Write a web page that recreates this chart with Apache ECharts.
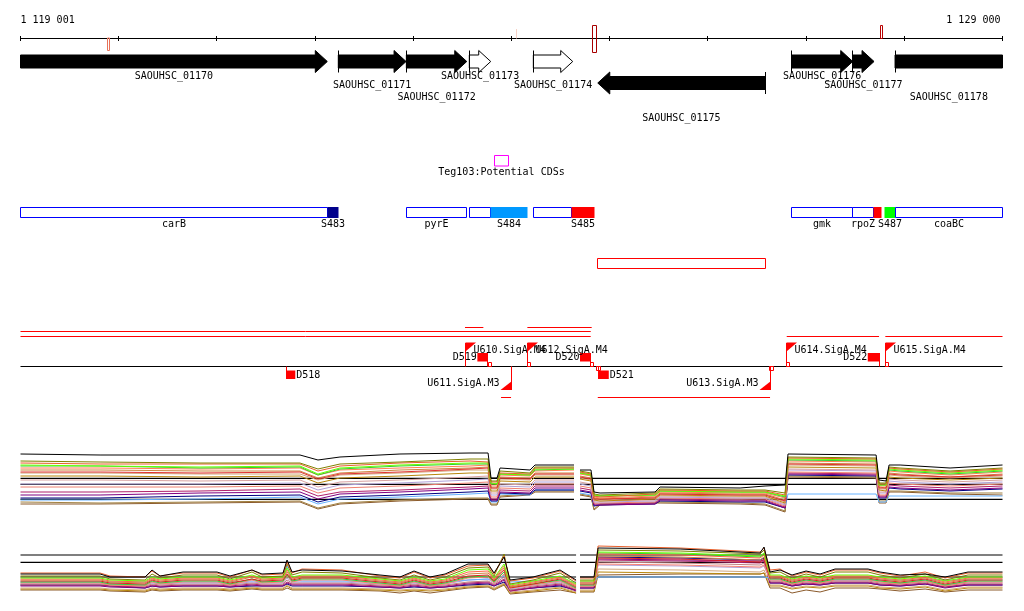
<!DOCTYPE html>
<html><head><meta charset="utf-8">
<script src="https://cdn.jsdelivr.net/npm/echarts@6/dist/echarts.min.js"></script>
<style>html,body{margin:0;padding:0;background:#fff}#c{width:1024px;height:611px}</style>
</head><body><div id="c"></div>
<script>
// ---------------- DATA ----------------
const VIEW_START = 1119001, VIEW_END = 1129000;
const rulerTicks = [1119001,1120000,1121000,1122000,1123000,1124000,1125000,1126000,1127000,1128000,1129000];
const rulerLabels = ['1 119 001', '1 129 000'];

const markStarts = [1119885, 1124048, 1124821, 1127756];
const markEnds   = [1119909, 1124055, 1124864, 1127781];

const geneNames  = ['SAOUHSC_01170','SAOUHSC_01171','SAOUHSC_01172','SAOUHSC_01173','SAOUHSC_01174','SAOUHSC_01175','SAOUHSC_01176','SAOUHSC_01177','SAOUHSC_01178'];
const geneStarts = [1118200, 1122237, 1122930, 1123571, 1124223, 1124879, 1126854, 1127476, 1127906];
const geneEnds   = [1122125, 1122927, 1123545, 1123789, 1124624, 1126582, 1127475, 1127692, 1130200];
const geneStrands = [1, 1, 1, 1, 1, -1, 1, 1, 1];
const geneSolid   = [1, 1, 1, 0, 0, 1, 1, 1, 1];
const geneRows    = [0, 0, 0, 0, 0, 1, 0, 0, 0];
const geneLabelLevels = [0, 1, 2, 0, 1, 3, 0, 1, 2];

const tegNames  = ['Teg103:Potential CDSs'];
const tegStarts = [1123827];
const tegEnds   = [1123973];

const annotNames  = ['carB','S483','pyrE','','S484','','S485','gmk','rpoZ','','S487','coaBC'];
const annotStarts = [1118200,1122125,1122930,1123571,1123789,1124223,1124614,1126854,1127472,1127689,1127794,1127907];
const annotEnds   = [1122125,1122244,1123545,1123789,1124167,1124614,1124848,1127472,1127689,1127764,1127907,1130200];

const regionStarts = [1124879];
const regionEnds   = [1126582];

const trStarts = [1119001,1119001,1123527,1124162,1126803,1127807,1123894,1124879];
const trEnds   = [1124807,1124807,1123714,1124817,1127743,1129000,1123996,1126633];
const trLevels = [1, 2, 0, 0, 2, 2, 3, 3];

const promNames  = ['U610.SigA.M4','U611.SigA.M3','U612.SigA.M4','U613.SigA.M3','U614.SigA.M4','U615.SigA.M4'];
const promPos    = [1123534, 1123996, 1124166, 1126633, 1126803, 1127807];
const promStrand = [1, -1, 1, -1, 1, 1];

const termNames  = ['D518','D519','D520','D521','D522'];
const termStarts = [1121708, 1123653, 1124698, 1124882, 1127628];
const termEnds   = [1121799, 1123757, 1124807, 1124991, 1127743];
const termStrand = [-1, 1, 1, -1, 1];

const sitePos    = [1123764, 1124166, 1124807, 1124868, 1126626, 1126803, 1127807];
const siteStrand = [1, 1, 1, -1, -1, 1, 1];

// expression panel 1
const pos1 = [1119001,1119811,1120829,1121847,1122030,1122254,1122865,1123578,1123762,1123792,1123853,1123884,1124189,1124240,1124637,1124668,1124698,1124810,1124841,1124902,1125462,1125513,1126328,1126582,1126786,1126816,1127713,1127743,1127814,1127845,1127957,1128466,1129000];
const ref1 = [41.7, 35.7, 20.7];
const e1Black     = [66,65,65,65,60,63,66,67,67,42,42,52,50,55,55,null,50,50,28,27,28,33,32,34,35,66,65,40,39,55,55,52,55];
const e1Olive     = [59,58,57,57,51,56,58,61,61,39,39,49,47,53,53,null,49,47,26,25,27,31,30,30,27,63,62,37,37,53,52,49,52];
const e1Lime      = [55,54,53,54,46,52,55,57,57,37,36,46,45,51,51,null,47,45,25,24,25,29,28,28,24,61,60,35,35,51,50,47,50];
const e1OrangeRed = [57,56,56,56,49,54,57,59,58,38,38,47,46,52,52,null,48,46,24,23,26,30,29,29,25,62,61,36,36,52,51,48,51];
const e1Coral     = [52,52,51,52,45,50,52,54,55,35,35,45,44,49,50,null,46,44,23,22,24,28,27,27,22,59,58,34,34,49,48,45,48];
const e1Peru      = [50,50,49,49,42,47,50,52,53,33,33,43,42,47,47,null,44,42,22,21,23,27,26,26,20,57,56,33,32,47,46,43,46];
const e1Tan       = [47,47,46,46,40,45,47,50,50,31,31,41,40,45,45,null,42,40,21,20,22,26,25,25,18,55,54,31,31,45,44,42,44];
const e1Goldenrod = [44,44,43,44,37,42,44,47,47,29,29,39,38,43,43,null,41,39,20,19,21,25,24,24,17,53,52,30,29,43,42,40,42];
const e1Rosy      = [40,40,39,40,33,38,40,43,44,27,27,36,35,40,40,null,38,36,19,19,20,24,23,23,16,51,50,28,28,41,40,38,40];
const e1Lavender  = [36,36,36,37,30,35,37,40,41,25,25,34,33,38,38,null,36,34,18,18,19,23,22,22,15,50,49,27,27,39,38,36,38];
const e1Salmon    = [33,33,33,34,27,32,34,37,38,23,23,32,31,36,36,null,34,32,17,17,18,22,21,21,14,48,47,25,25,37,36,34,36];
const e1Magenta   = [28,28,29,31,24,28,30,33,34,21,21,30,29,34,34,null,32,30,16,16,17,21,20,20,13,47,46,24,24,35,34,32,34];
const e1Purple    = [25,25,27,28,21,26,28,31,32,20,20,28,27,32,32,null,30,28,15,15,16,20,19,19,12,46,45,23,23,33,32,30,32];
const e1Navy      = [22,22,24,25,18,23,25,28,29,19,19,27,26,30,30,null,29,27,14,15,16,19,18,18,12,45,44,22,22,32,31,29,31];
const e1Sky       = [20,20,21,23,16,21,23,26,27,18,18,26,25,30,30,null,27,25,14,16,17,21,20,19,12,26,26,18,18,24,24,24,24];
const e1Brown     = [16,16,17,18,11,16,19,21,21,15,15,23,25,28,28,null,25,23,10,15,17,17,16,15,8,43,42,17,17,28,28,26,25];
const e1Khaki     = [18,17,18,19,12,17,20,22,22,16,16,24,26,29,29,null,26,24,11,16,17,18,17,16,9,44,43,19,19,29,29,27,27];
const e1Green     = [54,54,52,53,45,51,54,56,56,36,36,46,45,50,51,null,47,45,24,24,25,29,28,28,23,60,59,35,35,50,49,46,49];
const e1Red       = [48,48,47,48,41,46,48,51,52,32,32,42,41,46,46,null,43,41,21,21,22,26,25,25,19,56,55,32,32,46,45,43,45];

// expression panel 2
const pos2 = [1119001,1119811,1119912,1120269,1120340,1120422,1120656,1121002,1121134,1121358,1121460,1121674,1121715,1121766,1121868,1122275,1122662,1122865,1123008,1123171,1123324,1123558,1123762,1123823,1123925,1123986,1124220,1124495,1124658,1124668,1124698,1124841,1124882,1125717,1126531,1126572,1126633,1126735,1126857,1127000,1127142,1127295,1127631,1127753,1127957,1128212,1128415,1128649,1129000];
const ref2 = [55, 47.7, 33];
const e2Black     = [36,36,33,33,40,34,38,38,34,40,36,37,50,38,40,39,35,33,39,33,36,46,46,37,53,30,33,40,30,null,33,33,62,61,57,63,38,40,35,39,36,41,41,38,35,36,33,38,38];
const e2Orange    = [37,37,34,33,39,34,37,37,33,40,35,36,48,37,41,40,34,32,38,32,35,44,45,36,54,29,32,39,29,null,32,32,64,62,58,62,40,41,34,38,35,40,40,37,34,38,32,37,37];
const e2Olive     = [34,34,31,30,36,32,35,35,31,38,33,34,46,35,38,37,32,30,35,30,33,42,43,34,56,26,30,37,27,null,30,30,60,59,56,60,37,38,32,36,33,38,38,35,32,36,30,35,35];
const e2Lime      = [32,32,30,29,33,31,33,33,30,35,32,33,42,33,35,35,31,29,33,29,31,40,41,32,46,25,29,34,26,null,29,29,58,57,54,57,35,35,31,34,32,35,35,33,31,34,29,33,33];
const e2Tomato    = [31,31,29,28,32,30,32,32,29,34,31,32,40,32,34,34,30,28,32,28,30,38,39,31,44,24,28,33,25,null,28,28,56,55,52,55,34,34,30,33,31,34,34,32,30,33,28,32,32];
const e2Peru      = [30,30,28,27,31,29,31,31,28,33,30,31,38,31,33,33,29,27,31,27,29,36,37,30,42,23,27,32,24,null,27,27,54,53,50,53,33,33,29,32,30,33,33,31,29,32,27,31,31];
const e2Red       = [29,29,27,26,30,28,30,30,27,31,29,30,36,30,32,32,28,26,30,26,28,34,35,29,40,22,26,31,23,null,26,26,52,51,48,51,32,32,28,31,29,32,32,30,28,31,26,30,30];
const e2Green     = [28,28,26,25,29,27,29,29,26,31,28,29,35,29,31,31,27,25,29,25,27,33,34,28,38,23,26,30,22,null,25,25,57,56,53,56,31,31,27,30,28,31,31,29,27,30,25,29,29];
const e2Salmon    = [27,27,25,24,28,26,28,28,25,30,27,28,34,28,30,30,26,24,28,24,26,32,33,27,36,22,25,29,21,null,24,24,46,45,43,45,30,30,26,29,27,30,30,28,26,29,24,28,28];
const e2Sky       = [28,28,28,28,28,28,28,28,28,29,29,28,44,30,29,29,28,28,28,28,28,30,31,30,34,28,29,29,28,null,28,28,33,33,33,33,32,31,30,30,30,30,30,30,30,30,30,30,30];
const e2Lavender  = [27,27,26,25,27,26,27,27,26,28,27,27,32,28,28,28,26,25,27,25,26,30,31,27,35,21,25,28,22,null,25,25,45,44,42,44,30,30,27,29,28,30,30,28,27,29,25,28,28];
const e2Rosy      = [26,26,25,24,26,25,26,26,25,27,26,26,30,27,27,27,25,24,26,24,25,28,29,26,33,20,24,27,21,null,24,24,48,47,45,47,29,29,26,28,27,29,29,27,26,28,24,27,27];
const e2Magenta   = [25,25,24,23,25,24,25,25,24,26,25,25,28,26,26,26,24,23,25,23,24,27,28,25,31,19,23,26,20,null,23,23,50,49,47,49,28,28,25,27,26,28,28,26,25,27,23,26,26];
const e2Purple    = [24,24,23,22,24,23,24,24,23,25,24,24,27,25,25,25,23,22,24,22,23,26,27,24,30,19,22,25,19,null,22,22,51,50,49,50,27,27,24,26,25,27,27,25,24,26,22,25,25];
const e2Navy      = [25,25,24,22,24,23,24,24,23,24,24,24,26,24,24,24,23,22,23,22,23,25,26,24,28,20,22,24,20,null,22,22,53,52,50,52,27,27,24,26,25,27,27,25,24,26,23,25,25];
const e2Tan       = [22,22,21,20,22,21,22,22,21,23,22,22,25,22,22,22,21,20,21,20,21,24,25,22,27,18,20,23,18,null,20,20,41,40,38,40,25,25,22,24,23,25,25,23,22,24,20,23,23];
const e2Goldenrod = [21,21,20,19,21,20,21,21,20,22,21,21,24,21,21,21,20,19,20,19,20,23,24,21,26,17,19,22,17,null,19,19,38,37,36,37,24,24,21,23,22,24,24,22,21,23,19,22,22];
const e2Brown     = [20,20,19,18,20,19,20,20,19,21,20,20,22,20,20,20,19,17,19,17,19,22,23,20,25,16,18,20,17,null,18,18,35,36,36,37,22,22,17,20,18,22,22,21,19,21,18,20,20];

// ---------------- STYLE / LAYOUT ----------------
const FONT = 'DejaVu Sans Mono';
const RED = '#ff0000';
const MARK_STYLE = [['#e8735a',38,50.5],['#f7d2c6',29,38.5],['#a80000',25.5,52.5],['#b80000',25.5,38.5]];
const GENE_ROW_Y = [61.5, 83];
const GENE_LABEL_Y = [76.5, 85.5, 97.5, 118.5];
const ANNOT_FILL = [null,'#00008b',null,null,'#0099ff',null,'#ff0000',null,null,'#ff0000','#00ff00',null];
const TRACK_Y = [327.5, 331.5, 336.5, 397.5];
const BASE_Y = 366.5;

function crisp(v){ return Math.round(v - 0.5) + 0.5; }
function txt(x, y, s, align){ return {type:'text', x:x, y:y, silent:true, style:{text:s, fill:'#000', fontSize:10, fontFamily:FONT, align:align||'center', verticalAlign:'middle'}}; }
function ln(x1,y1,x2,y2,c){ return {type:'line', silent:true, shape:{x1:x1,y1:y1,x2:x2,y2:y2}, style:{stroke:c, lineWidth:1}}; }
function rect(x,y,w,h,fill,stroke){ return {type:'rect', silent:true, shape:{x:x,y:y,width:w,height:h}, style:{fill:fill||'none', stroke:stroke||'none', lineWidth:1}}; }
function poly(points, fill, stroke){ return {type:'polygon', silent:true, shape:{points:points}, style:{fill:fill, stroke:stroke||'none', lineWidth:1}}; }

function layer(starts, ends, draw){
  const data = starts.map((s,i)=>[s, ends[i], i]);
  return {type:'custom', xAxisIndex:0, yAxisIndex:0, silent:true, animation:false,
    encode:{x:[0,1], y:2}, data:data,
    renderItem:function(params, api){
      const cs = params.coordSys;
      const X = v => api.coord([v, 0])[0];
      return {type:'group', children: draw(api.value(2), cs, X)};
    }};
}

const series = [];

// ruler
series.push(layer([VIEW_START],[VIEW_END], (i, cs, X) => {
  const L = cs.x, R = cs.x + cs.width;
  const ch = [ln(L, 38.5, R, 38.5, '#000')];
  rulerTicks.forEach(t => { const x = crisp(X(t)); ch.push(ln(x, 36, x, 41, '#000')); });
  ch.push(txt(L, 20.5, rulerLabels[0], 'left'));
  ch.push(txt(R - 2, 20.5, rulerLabels[1], 'right'));
  return ch;
}));
// ruler marks
series.push(layer(markStarts, markEnds, (i, cs, X) => {
  const st = MARK_STYLE[i];
  const x0 = crisp(X(markStarts[i])), x1 = crisp(X(markEnds[i]));
  if (x1 - x0 < 1.5) return [ln(x0, st[1], x0, st[2], st[0])];
  return [rect(x0, st[1], x1 - x0, st[2] - st[1], 'none', st[0])];
}));
// genes
series.push(layer(geneStarts, geneEnds, (i, cs, X) => {
  const L = cs.x, R = cs.x + cs.width;
  const xs = X(geneStarts[i]), xe = X(geneEnds[i]);
  const a = Math.max(L, xs), b = Math.min(R, xe);
  const yc = GENE_ROW_Y[geneRows[i]];
  const bh = 6.5, hh = 11, hl = 12;
  let pts;
  if (geneStrands[i] > 0) {
    if (xe <= R + 0.5) { const h = Math.max(a, xe - hl); pts = [[a,yc-bh],[h,yc-bh],[h,yc-hh],[xe,yc],[h,yc+hh],[h,yc+bh],[a,yc+bh]]; }
    else pts = [[a,yc-bh],[b,yc-bh],[b,yc+bh],[a,yc+bh]];
  } else {
    if (xs >= L - 0.5) { const h = Math.min(b, xs + hl); pts = [[b,yc-bh],[h,yc-bh],[h,yc-hh],[xs,yc],[h,yc+hh],[h,yc+bh],[b,yc+bh]]; }
    else pts = [[a,yc-bh],[b,yc-bh],[b,yc+bh],[a,yc+bh]];
  }
  const ch = [poly(pts, geneSolid[i] ? '#000' : '#fff', '#000')];
  if (geneStrands[i] > 0 && xs >= L) ch.push(ln(crisp(xs), yc-hh, crisp(xs), yc+hh, '#000'));
  if (geneStrands[i] < 0 && xe <= R) ch.push(ln(crisp(xe), yc-hh, crisp(xe), yc+hh, '#000'));
  ch.push(txt((a + b) / 2, GENE_LABEL_Y[geneLabelLevels[i]], geneNames[i]));
  return ch;
}));
// Teg
series.push(layer(tegStarts, tegEnds, (i, cs, X) => {
  const x0 = crisp(X(tegStarts[i])), x1 = crisp(X(tegEnds[i]));
  return [rect(x0, 155.5, x1 - x0, 10.5, 'none', '#ff00ff'), txt((x0 + x1) / 2, 172.5, tegNames[i])];
}));
// annotation row
series.push(layer(annotStarts, annotEnds, (i, cs, X) => {
  const L = cs.x, R = cs.x + cs.width;
  const a = crisp(Math.max(L, X(annotStarts[i]))), b = crisp(Math.min(R, X(annotEnds[i])));
  const f = ANNOT_FILL[i];
  const ch = [f ? rect(a, 207, b - a, 11, f) : rect(a, 207.5, b - a, 10, '#fff', '#0000ff')];
  if (annotNames[i]) ch.push(txt((a + b) / 2, 224.5, annotNames[i]));
  return ch;
}));
// region
series.push(layer(regionStarts, regionEnds, (i, cs, X) => {
  const x0 = crisp(X(regionStarts[i])), x1 = crisp(X(regionEnds[i]));
  return [rect(x0, 258.5, x1 - x0, 10, 'none', RED)];
}));
// baseline + transcripts
series.push(layer(trStarts, trEnds, (i, cs, X) => {
  const L = cs.x, R = cs.x + cs.width;
  const ch = [];
  if (i === 0) ch.push(ln(L, BASE_Y, R, BASE_Y, '#000'));
  const y = TRACK_Y[trLevels[i]];
  ch.push(ln(Math.max(L, X(trStarts[i])), y, Math.min(R, X(trEnds[i])), y, RED));
  return ch;
}));
// sites
series.push(layer(sitePos, sitePos, (i, cs, X) => {
  const x = crisp(X(sitePos[i]));
  return [siteStrand[i] > 0 ? rect(x, 362.5, 3, 4, 'none', RED) : rect(x, 366.5, 4, 4, '#fff', RED)];
}));
// terminators
series.push(layer(termStarts, termEnds, (i, cs, X) => {
  const x0 = X(termStarts[i]), x1 = X(termEnds[i]);
  if (termStrand[i] > 0) {
    return [rect(x0, 353, x1 - x0, 8.5, RED), ln(crisp(x1), 353, crisp(x1), BASE_Y, RED), txt(x0 - 0.5, 357.5, termNames[i], 'right')];
  }
  return [rect(x0, 370.5, x1 - x0, 8.5, RED), ln(crisp(x0), BASE_Y, crisp(x0), 379, RED), txt(x1 + 1, 375.5, termNames[i], 'left')];
}));
// promoters
series.push(layer(promPos, promPos, (i, cs, X) => {
  const x = crisp(X(promPos[i]));
  if (promStrand[i] > 0) {
    return [ln(x, BASE_Y, x, 343, RED), poly([[x,342.5],[x+10.5,342.5],[x,351.5]], RED), txt(x + 8, 350, promNames[i], 'left')];
  }
  return [ln(x, BASE_Y, x, 390, RED), poly([[x+0.5,390],[x-11,390],[x+0.5,381]], RED), txt(x - 12, 383.5, promNames[i], 'right')];
}));

// expression panels
function refSeries(pos, gapIdx, v, gi){
  return {type:'line', xAxisIndex:gi, yAxisIndex:gi, silent:true, animation:false, symbol:'none', showSymbol:false,
    data:[[VIEW_START, v],[pos[gapIdx-1], v],[pos[gapIdx], null],[pos[gapIdx+1], v],[VIEW_END, v]],
    lineStyle:{color:'#000', width:1.2}, z:1};
}
function exprSeries(pos, vals, color, gi, z){
  return {type:'line', xAxisIndex:gi, yAxisIndex:gi, silent:true, animation:false, symbol:'none', showSymbol:false,
    connectNulls:false, data: pos.map((p,k)=>[p, vals[k]]), lineStyle:{color:color, width:1}, z:z||2};
}
ref1.forEach(v => series.push(refSeries(pos1, 15, v, 1)));
ref2.forEach(v => series.push(refSeries(pos2, 29, v, 2)));

const set1 = [[e1Brown,'#8b5a2b'],[e1Khaki,'#a08040'],[e1Sky,'#66b2ff'],[e1Navy,'#000080'],[e1Purple,'#800080'],[e1Magenta,'#b0206a'],
  [e1Salmon,'#f08070'],[e1Lavender,'#b0a0d8'],[e1Rosy,'#d8a0a0'],[e1Goldenrod,'#b8860b'],[e1Tan,'#d2a679'],[e1Peru,'#cd853f'],
  [e1Red,'#e03030'],[e1Coral,'#ff7f50'],[e1Green,'#32cd32'],[e1Lime,'#66ff00'],[e1OrangeRed,'#e8602c'],[e1Olive,'#808000']];
set1.forEach(s => series.push(exprSeries(pos1, s[0], s[1], 1)));
series.push(exprSeries(pos1, e1Black, '#000', 1, 3));

const set2 = [[e2Brown,'#8b5a2b'],[e2Goldenrod,'#b8860b'],[e2Tan,'#d2a679'],[e2Navy,'#000080'],[e2Purple,'#800080'],[e2Magenta,'#b0206a'],
  [e2Rosy,'#c08080'],[e2Lavender,'#b0a0d8'],[e2Sky,'#66b2ff'],[e2Salmon,'#fa8072'],[e2Green,'#32cd32'],[e2Red,'#e02020'],
  [e2Peru,'#cd853f'],[e2Tomato,'#ff6347'],[e2Lime,'#66ff00'],[e2Olive,'#808000'],[e2Orange,'#e8602c']];
set2.forEach(s => series.push(exprSeries(pos2, s[0], s[1], 2)));
series.push(exprSeries(pos2, e2Black, '#000', 2, 3));

const ax = () => ({type:'value', min:VIEW_START, max:VIEW_END, show:false});
const option = {
  backgroundColor:'#fff',
  animation:false,
  grid:[
    {left:20.5, right:21.5, top:0, height:611},
    {left:20.5, right:21.5, top:440, height:80},
    {left:20.5, right:21.5, top:530, height:80}
  ],
  xAxis:[Object.assign(ax(),{gridIndex:0}), Object.assign(ax(),{gridIndex:1}), Object.assign(ax(),{gridIndex:2})],
  yAxis:[
    {type:'value', gridIndex:0, min:0, max:611, inverse:true, show:false},
    {type:'value', gridIndex:1, min:0, max:80, show:false},
    {type:'value', gridIndex:2, min:0, max:80, show:false}
  ],
  series: series
};
const chart = echarts.init(document.getElementById('c'));
chart.setOption(option);
</script>
</body></html>
